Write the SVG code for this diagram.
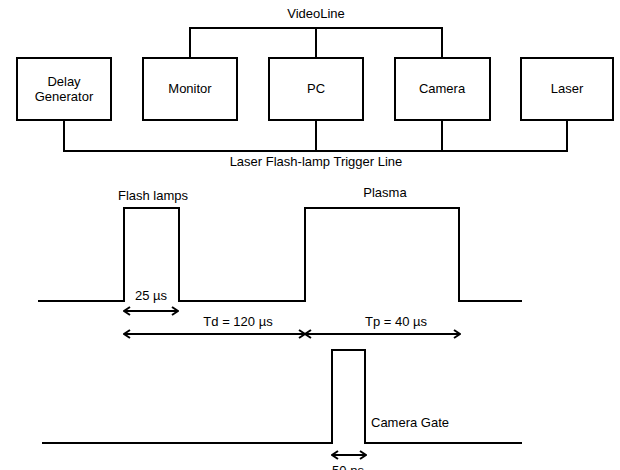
<svg xmlns="http://www.w3.org/2000/svg" width="620" height="470" viewBox="0 0 620 470">
<defs>
<style>
.box{fill:#fff;stroke:#000;stroke-width:2}
.ln{fill:none;stroke:#000;stroke-width:2}
.ar{fill:none;stroke:#000;stroke-width:2;marker-start:url(#hd);marker-end:url(#hd)}
text{font-family:"Liberation Sans",Arial,sans-serif;font-size:13px;fill:#000}
.c{text-anchor:middle}
</style>
<marker id="hd" viewBox="0 0 10 10" refX="9" refY="5" markerWidth="10" markerHeight="10" markerUnits="userSpaceOnUse" orient="auto-start-reverse">
<path d="M3,1 L9,5 L3,9" fill="none" stroke="#000" stroke-width="2"/>
</marker>
</defs>
<rect width="620" height="470" fill="#fff"/>
<g id="connectors">
<path class="ln" d="M190,58 V28 H442 V58 M316,28 V58"/>
<path class="ln" d="M64,120 V151 H567 V120 M316,120 V151 M442,120 V151"/>
<text class="c" x="316" y="18">VideoLine</text>
<text class="c" x="316" y="166">Laser Flash-lamp Trigger Line</text>
</g>
<g id="delay"><rect class="box" x="17" y="58" width="94" height="62"/><text class="c" x="64" y="86">Delay</text><text class="c" x="64" y="101">Generator</text></g>
<g id="monitor"><rect class="box" x="143" y="58" width="94" height="62"/><text class="c" x="190" y="93">Monitor</text></g>
<g id="pc"><rect class="box" x="269" y="58" width="94" height="62"/><text class="c" x="316" y="93">PC</text></g>
<g id="camera"><rect class="box" x="395" y="58" width="95" height="62"/><text class="c" x="442" y="93">Camera</text></g>
<g id="laser"><rect class="box" x="521" y="58" width="92" height="62"/><text class="c" x="567" y="93">Laser</text></g>
<g id="flash-signal">
<path class="ln" d="M38,301 H124 V208 H179 V301 H305 V208 H459 V301 H522"/>
<text class="c" x="153" y="200">Flash lamps</text>
<text class="c" x="385" y="197">Plasma</text>
<text class="c" x="151" y="300">25 µs</text>
<path class="ar" d="M124,311 H178"/>
<text class="c" x="238" y="326">Td = 120 µs</text>
<path class="ar" d="M124,334 H305"/>
<text class="c" x="396" y="326">Tp = 40 µs</text>
<path class="ar" d="M305,334 H460"/>
</g>
<g id="camera-gate">
<path class="ln" d="M42,443 H332 V350 H365 V443 H522"/>
<text x="371" y="427">Camera Gate</text>
<path class="ar" d="M332,455 H366"/>
<text class="c" x="348" y="475">50 ns</text>
</g>
</svg>
